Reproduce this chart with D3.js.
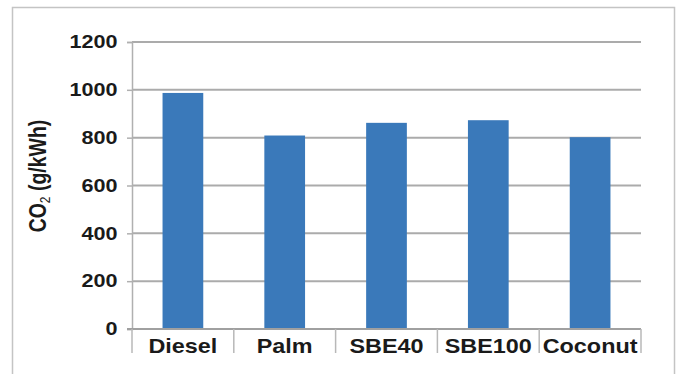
<!DOCTYPE html>
<html>
<head>
<meta charset="utf-8">
<script src="https://cdn.jsdelivr.net/npm/d3@7"></script>
<style>
  body { margin: 0; background: #fff; }
  text { font-family: "Liberation Sans", Arial, sans-serif; font-weight: bold; fill: #1a1a1a; }
</style>
</head>
<body>
<svg id="chart" width="682" height="374"></svg>
<script>
// data
var fuels = ["Diesel", "Palm", "SBE40", "SBE100", "Coconut"];
var co2 = [987, 809, 862, 873, 802];
var yTicks = [0, 200, 400, 600, 800, 1000, 1200];

var svg = d3.select("#chart");
var plotLeft = 132, plotRight = 641, plotTop = 42, plotBottom = 329;
var stretch = "scale(1.2,1)";

// outer frame
svg.append("rect")
  .attr("x", 12.5).attr("y", 7.5)
  .attr("width", 662).attr("height", 380)
  .attr("fill", "none")
  .attr("stroke", "#c4c4c4")
  .attr("stroke-width", 1.5);

var x = d3.scaleBand()
  .domain(fuels)
  .range([plotLeft, plotRight])
  .paddingInner(0.6)
  .paddingOuter(0.3);

var y = d3.scaleLinear()
  .domain([0, 1200])
  .range([plotBottom, plotTop]);

// gridlines
svg.append("g")
  .selectAll("line")
  .data(yTicks.filter(function(d) { return d > 0; }))
  .enter().append("line")
  .attr("x1", plotLeft).attr("x2", plotRight)
  .attr("y1", function(d) { return y(d); })
  .attr("y2", function(d) { return y(d); })
  .attr("stroke", "#ababab")
  .attr("stroke-width", 2);

// bars
svg.append("g")
  .selectAll("rect")
  .data(co2)
  .enter().append("rect")
  .attr("x", function(d, i) { return x(fuels[i]); })
  .attr("width", x.bandwidth())
  .attr("y", function(d) { return y(d); })
  .attr("height", function(d) { return y(0) - y(d); })
  .attr("fill", "#3a79ba");

// y axis
var yAxis = svg.append("g")
  .attr("transform", "translate(" + plotLeft + ",0)")
  .call(d3.axisLeft(y).tickValues(yTicks).tickSize(5).tickFormat(d3.format("d")));
yAxis.select(".domain").attr("stroke", "#b0b0b0").attr("stroke-width", 1.5);
yAxis.selectAll(".tick line").attr("stroke", "#b0b0b0").attr("stroke-width", 1.5);
yAxis.selectAll(".tick text")
  .attr("font-size", 18)
  .attr("fill", "#1a1a1a")
  .attr("font-family", null)
  .attr("x", -12)
  .attr("transform", stretch);

// x axis line and category separators
var sep = fuels.map(function(f, i) { return plotLeft + i * (plotRight - plotLeft) / fuels.length; });
sep.push(plotRight);
svg.append("line")
  .attr("x1", plotLeft - 5).attr("x2", plotRight)
  .attr("y1", plotBottom).attr("y2", plotBottom)
  .attr("stroke", "#a0a0a0").attr("stroke-width", 2);
svg.append("g")
  .selectAll("line")
  .data(sep)
  .enter().append("line")
  .attr("x1", function(d) { return d; }).attr("x2", function(d) { return d; })
  .attr("y1", plotBottom).attr("y2", plotBottom + 24)
  .attr("stroke", "#b8b8b8").attr("stroke-width", 1.5);

// category labels
svg.append("g")
  .selectAll("text")
  .data(fuels)
  .enter().append("text")
  .attr("transform", function(d) {
    return "translate(" + (x(d) + x.bandwidth() / 2) + "," + (plotBottom + 24) + ") " + stretch;
  })
  .attr("text-anchor", "middle")
  .attr("font-size", 19.5)
  .text(function(d) { return d; });

// y title
var title = svg.append("text")
  .attr("transform", "translate(46,176) rotate(-90) scale(1,1.2)")
  .attr("text-anchor", "middle")
  .attr("font-size", 19.5);
title.append("tspan").text("CO");
title.append("tspan").attr("font-size", 12).attr("font-weight", "normal").attr("dy", 3).text("2");
title.append("tspan").attr("dy", -3).text(" (g/kWh)");
</script>
</body>
</html>
